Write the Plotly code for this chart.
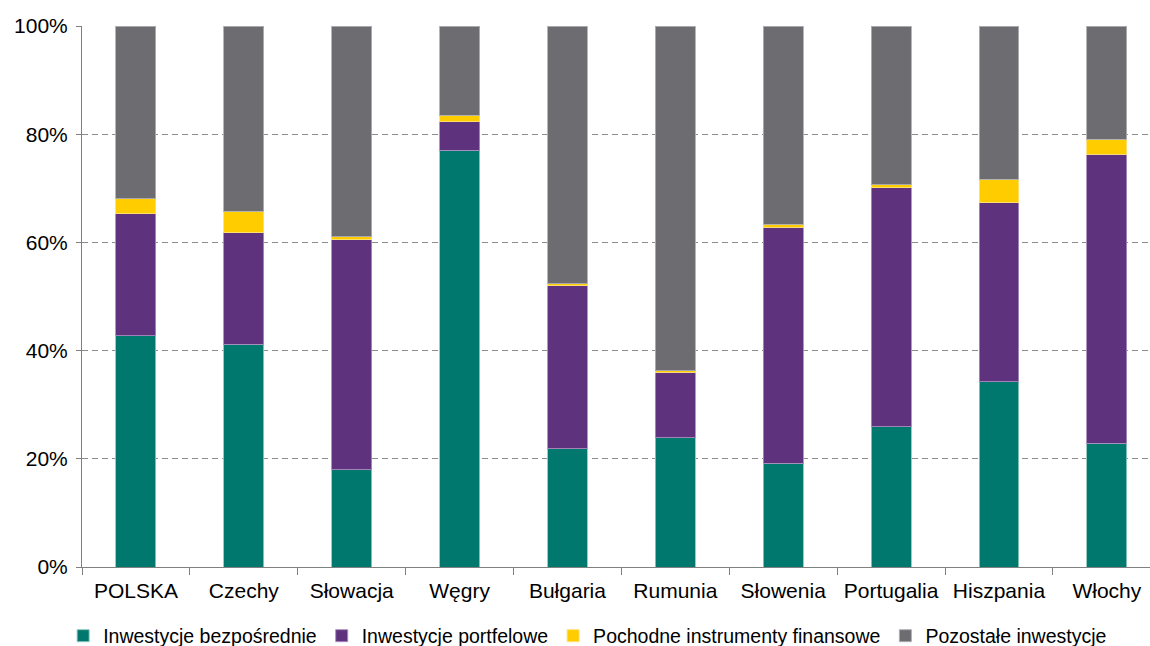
import plotly.graph_objects as go

categories = ["POLSKA", "Czechy", "Słowacja", "Węgry", "Bułgaria", "Rumunia",
              "Słowenia", "Portugalia", "Hiszpania", "Włochy"]
bezposrednie = [42.75, 41.2, 18.0, 77.0, 21.9, 23.85, 19.2, 25.9, 34.2, 22.9]
portfelowe = [22.55, 20.6, 42.5, 5.3, 30.1, 12.15, 43.6, 44.2, 33.1, 53.4]
pochodne = [2.8, 4.0, 0.5, 1.2, 0.35, 0.3, 0.6, 0.6, 4.4, 2.8]
pozostale = [31.9, 34.2, 39.0, 16.5, 47.65, 63.7, 36.6, 29.3, 28.3, 20.9]

series = [
    ("Inwestycje bezpośrednie", bezposrednie, "#00786D", "rgba(140,200,190,0.9)"),
    ("Inwestycje portfelowe", portfelowe, "#5E327C", "rgba(170,140,190,0.9)"),
    ("Pochodne instrumenty finansowe", pochodne, "#FFCC00", "rgba(255,225,120,0.9)"),
    ("Pozostałe inwestycje", pozostale, "#6D6C71", "rgba(175,175,178,0.9)"),
]

fig = go.Figure()
for name, vals, col, lcol in series:
    fig.add_trace(go.Bar(
        x=categories, y=vals, name=name, width=0.37,
        marker=dict(color=col, line=dict(color=lcol, width=1)),
    ))

fig.update_layout(
    width=1150, height=646,
    barmode="stack",
    plot_bgcolor="white", paper_bgcolor="white",
    margin=dict(l=82, r=0, t=26, b=79),
    font=dict(family="Liberation Sans, Arial, sans-serif", size=21, color="#000000"),
    showlegend=True,
    legend=dict(orientation="h", xref="container", x=0.511, xanchor="center",
                yref="container", y=10/646, yanchor="middle",
                font=dict(size=19.5), itemwidth=30, tracegroupgap=0,
                traceorder="normal"),
    xaxis=dict(range=[-0.5, 9.4], showline=True, linecolor="#808080", linewidth=1,
               ticks="outside", tickcolor="#808080", ticklen=7, tickson="boundaries",
               showgrid=False, tickfont=dict(size=21), ticklabelstandoff=5),
    yaxis=dict(range=[0, 100], tickvals=[0, 20, 40, 60, 80, 100],
               ticktext=["0%", "20%", "40%", "60%", "80%", "100%"],
               showline=True, linecolor="#808080", linewidth=1,
               ticks="outside", tickcolor="#808080", ticklen=5,
               showgrid=True, gridcolor="#8c8c8c", griddash="6px,4px", gridwidth=1,
               zeroline=False, tickfont=dict(size=21), ticklabelstandoff=4),
    bargap=0.63,
)

fig.write_html("out.html", config={"displayModeBar": False},
               post_script="document.body.style.margin='0';")
